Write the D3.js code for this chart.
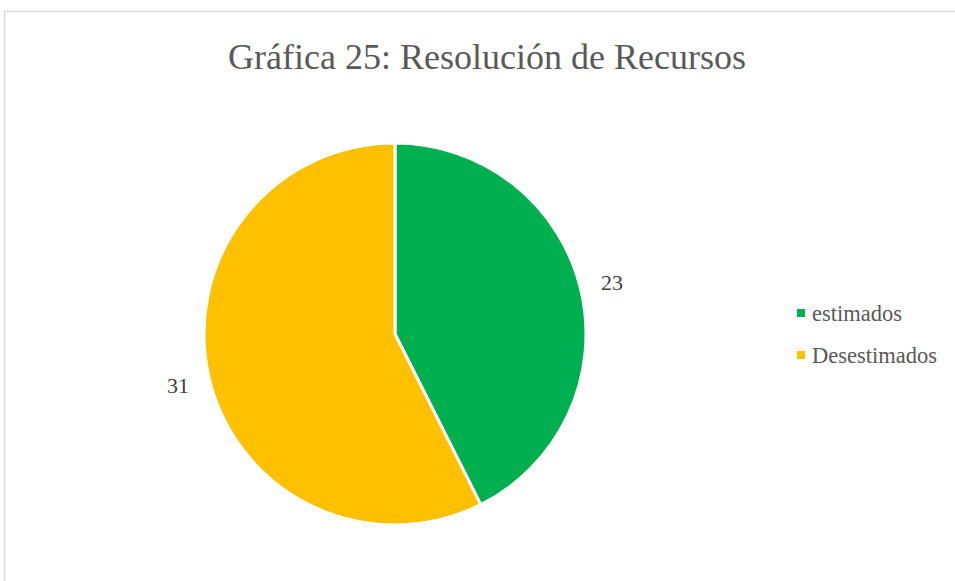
<!DOCTYPE html>
<html>
<head>
<meta charset="utf-8">
<script src="https://cdn.jsdelivr.net/npm/d3@7"></script>
<style>
  body { margin: 0; background: #fff; }
  text { font-family: "Liberation Serif", serif; }
</style>
</head>
<body>
<div class="chart"></div>
<script>
// Chart data
var categories = ["estimados", "Desestimados"];
var values = [23, 31];
var colors = ["#00b050", "#ffc000"];
var title = "Gráfica 25: Resolución de Recursos";

var svgWidth = 955;
var svgHeight = 581;

var svg = d3.select(".chart")
  .append("svg")
  .attr("width", svgWidth)
  .attr("height", svgHeight);

// Chart frame
svg.append("rect")
  .attr("x", 4.5)
  .attr("y", 11.5)
  .attr("width", 960)
  .attr("height", 600)
  .attr("fill", "#fff")
  .attr("stroke", "#d9d9d9")
  .attr("stroke-width", 1.5);

// Title
svg.append("text")
  .attr("x", 487)
  .attr("y", 69)
  .attr("text-anchor", "middle")
  .attr("fill", "#595959")
  .style("font-size", "36px")
  .text(title);

var data = categories.map((c, i) => ({ name: c, value: values[i], color: colors[i] }));

var cx = 395, cy = 334, radius = 191;

var pie = d3.pie()
  .sort(null)
  .value(d => d.value);

var arc = d3.arc()
  .innerRadius(0)
  .outerRadius(radius);

var labelArc = d3.arc()
  .innerRadius(radius + 32)
  .outerRadius(radius + 32);

var pieGroup = svg.append("g")
  .attr("transform", `translate(${cx}, ${cy})`);

var arcs = pie(data);

pieGroup.selectAll("path")
  .data(arcs)
  .enter()
  .append("path")
  .attr("d", arc)
  .attr("fill", d => d.data.color)
  .attr("stroke", "#fff")
  .attr("stroke-width", 3);

// Value labels
pieGroup.selectAll("text.val")
  .data(arcs)
  .enter()
  .append("text")
  .attr("class", "val")
  .attr("transform", d => `translate(${labelArc.centroid(d)})`)
  .attr("text-anchor", "middle")
  .attr("dy", "0.35em")
  .attr("fill", "#404040")
  .style("font-size", "22px")
  .text(d => d.data.value);

// Legend
var legend = svg.append("g")
  .attr("transform", "translate(797, 313)");

var legendItem = legend.selectAll("g")
  .data(data)
  .enter()
  .append("g")
  .attr("transform", (d, i) => `translate(0, ${i * 42})`);

legendItem.append("rect")
  .attr("x", 0)
  .attr("y", -4)
  .attr("width", 8)
  .attr("height", 8)
  .attr("fill", d => d.color);

legendItem.append("text")
  .attr("x", 15)
  .attr("dy", "0.35em")
  .attr("fill", "#595959")
  .style("font-size", "22.5px")
  .text(d => d.name);
</script>
</body>
</html>
